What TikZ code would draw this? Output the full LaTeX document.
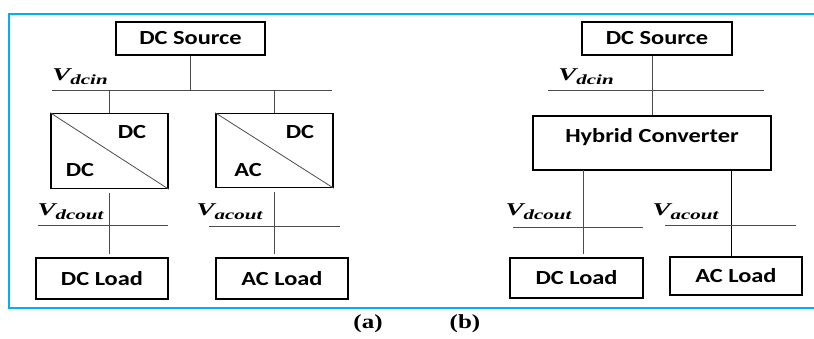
\documentclass[tikz,border=0pt]{standalone}
\usepackage{fontspec}
\setmainfont{Carlito}[FakeStretch=1.22]
\newfontfamily\capfont{Liberation Serif}[FakeStretch=1.25]
\newfontfamily\vfont{Liberation Serif}[FakeStretch=1.5]
\definecolor{frameblue}{RGB}{0,176,240}
\newcommand{\vlabel}[1]{V\raisebox{-4pt}{\fontsize{14}{16}\selectfont #1}}
\tikzset{
    blk/.style={draw, line width=1.4pt, inner sep=0pt, font=\fontsize{20}{24}\selectfont\bfseries},
    wire/.style={draw=black!70, line width=1pt},
    vlab/.style={inner sep=0pt, font=\vfont\fontsize{18}{20}\selectfont\bfseries\itshape},
    convtxt/.style={inner sep=0pt, font=\fontsize{20}{24}\selectfont\bfseries},
}
\begin{document}
\begin{tikzpicture}[x=1pt,y=-1pt]
    \useasboundingbox (0,0) rectangle (814,338);
    \draw[frameblue, line width=2pt] (816,14) -- (9,14) -- (9,308) -- (816,308);

    % (a) separate converters
    \begin{scope}
        \node[blk, minimum width=149, minimum height=33] (srcA) at (190.5,38.5) {DC Source};
        \coordinate (busAl) at (52,90);
        \coordinate (busAr) at (332,90);
        \draw[wire] (srcA.south) -- (srcA.south |- busAl);
        \draw[wire] (busAl) -- (busAr);
        \node[vlab] (vdcinA) at (80,77) {\vlabel{dcin}};

        \node[blk, minimum width=117, minimum height=75] (convDC) at (109.5,151) {};
        \node[blk, minimum width=117, minimum height=74] (convAC) at (274.5,150.5) {};
        \draw[wire] (convDC.north |- busAl) -- (convDC.north);
        \draw[wire] (convAC.north |- busAl) -- (convAC.north);
        \draw[black!70, line width=.8pt] (convDC.north west) -- (convDC.south east);
        \draw[black!70, line width=.8pt] (convAC.north west) -- (convAC.south east);
        \node[convtxt] (dcinA1) at (132,132) {DC};
        \node[convtxt] (dcoutA1) at (80,170) {DC};
        \node[convtxt] (dcinA2) at (300,132) {DC};
        \node[convtxt] (acoutA2) at (248,170) {AC};

        \node[blk, minimum width=132, minimum height=41] (loadDCa) at (102,278.5) {DC Load};
        \node[blk, minimum width=132, minimum height=41] (loadACa) at (282,278.5) {AC Load};
        \draw[wire, shorten <=4pt, shorten >=3pt] (convDC.south) -- (convDC.south |- loadDCa.north);
        \draw[wire, shorten <=4pt, shorten >=3pt] (convAC.south) -- (convAC.south |- loadACa.north);
        \coordinate (dcbusAl) at (38,225);
        \coordinate (dcbusAr) at (168,225);
        \coordinate (acbusAl) at (209,226);
        \coordinate (acbusAr) at (340,226);
        \draw[wire] (dcbusAl) -- (dcbusAr);
        \draw[wire] (acbusAl) -- (acbusAr);
        \node[vlab] (vdcoutA) at (70.5,212) {\vlabel{dcout}};
        \node[vlab] (vacoutA) at (229.5,212) {\vlabel{acout}};
    \end{scope}

    % (b) hybrid converter
    \begin{scope}
        \node[blk, minimum width=150, minimum height=33] (srcB) at (657,38.5) {DC Source};
        \node[blk, minimum width=238, minimum height=54] (hybrid) at (652,143) {};
        \node[convtxt] (hybtxt) at (652,137) {Hybrid Converter};
        \coordinate (busBl) at (548,90);
        \coordinate (busBr) at (764,90);
        \draw[wire] (busBl) -- (busBr);
        \draw[wire] (hybrid.north |- srcB.south) -- (hybrid.north);
        \node[vlab] (vdcinB) at (586,77) {\vlabel{dcin}};

        \node[blk, minimum width=133, minimum height=40] (loadDCb) at (576.5,278) {DC Load};
        \node[blk, minimum width=132, minimum height=38] (loadACb) at (736,276) {AC Load};
        \coordinate (hybl) at (583,170);
        \coordinate (hybr) at (731,170);
        \draw[wire, shorten >=3pt] (hybl) -- (hybl |- loadDCb.north);
        \draw[black, line width=1pt] (hybr) -- (hybr |- loadACb.north);
        \coordinate (dcbusBl) at (513,227);
        \coordinate (dcbusBr) at (643,227);
        \coordinate (acbusBl) at (665,225);
        \coordinate (acbusBr) at (796,225);
        \draw[wire] (dcbusBl) -- (dcbusBr);
        \draw[wire] (acbusBl) -- (acbusBr);
        \node[vlab] (vdcoutB) at (538.5,212) {\vlabel{dcout}};
        \node[vlab] (vacoutB) at (685.5,212) {\vlabel{acout}};
    \end{scope}

    \node[inner sep=0pt, font=\capfont\fontsize{20}{24}\selectfont\bfseries] (capA) at (368,324) {(a)};
    \node[inner sep=0pt, font=\capfont\fontsize{20}{24}\selectfont\bfseries] (capB) at (465,324) {(b)};
\end{tikzpicture}
\end{document}
